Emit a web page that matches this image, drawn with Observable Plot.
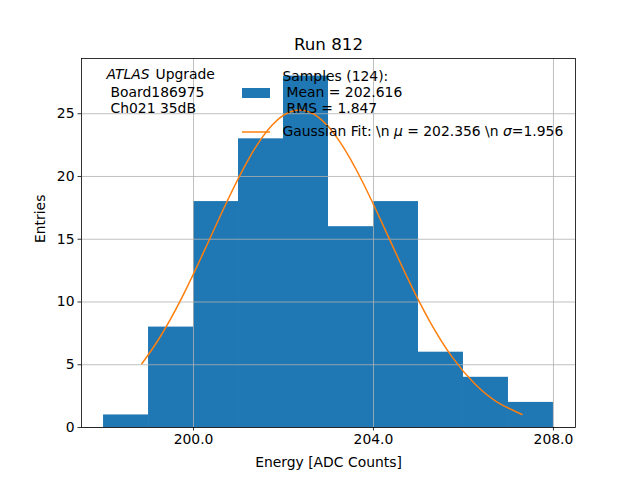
<!DOCTYPE html>
<html><head>
<meta charset="utf-8">
<script src="https://cdn.jsdelivr.net/npm/d3@7"></script>
<script src="https://cdn.jsdelivr.net/npm/@observablehq/plot@0.6"></script>
<style>
body{margin:0;background:#fff}
#c svg{font-family:"DejaVu Sans",sans-serif;background:#fff}
</style>
</head><body><div id="c"></div>
<script>
// Histogram bins (left edges, width 1) and counts
const binStart = [198, 199, 200, 201, 202, 203, 204, 205, 206, 207];
const counts   = [1, 8, 18, 23, 28, 16, 18, 6, 4, 2];
// Gaussian fit curve
const fitX = [198.85, 199.25, 199.75, 200.25, 200.75, 201.25, 201.75, 202.25, 202.75, 203.25, 203.75, 204.25, 204.75, 205.25, 205.75, 206.25, 206.75, 207.3];
const fitY = [5.08, 7.17, 10.41, 14.17, 18.05, 21.55, 24.10, 25.25, 24.78, 22.78, 19.62, 15.83, 11.96, 8.46, 5.61, 3.49, 2.03, 1.04];
const xTicks = [200, 204, 208];
const yTicks = [0, 5, 10, 15, 20, 25];
const title = "Run 812";
const xLabel = "Energy [ADC Counts]";
const yLabel = "Entries";
const infoLines = ["Board186975", "Ch021 35dB"];
const legendSamples = ["Samples (124):", "Mean = 202.616", "RMS = 1.847"];
const legendFit = "Gaussian Fit: \\n μ = 202.356 \\n σ=1.956";

const bins = binStart.map((b, i) => ({x1: b, x2: b + 1, y: counts[i]}));
const fit = fitX.map((x, i) => ({x, y: fitY[i]}));

const FS = 13.9;
const T = (txt, dx, dy, extra = {}) =>
  Plot.text([txt], {frameAnchor: "top-left", dx, dy, textAnchor: "start", lineAnchor: "middle", fontSize: FS, ...extra});

const plot = Plot.plot({
  width: 640, height: 480,
  marginLeft: 81, marginRight: 65, marginTop: 58, marginBottom: 53,
  x: {domain: [197.51, 208.49]},
  y: {domain: [0, 29.4]},
  style: {fontFamily: "DejaVu Sans", fontSize: FS + "px", color: "black"},
  marks: [
    Plot.rectY(bins, {x1: "x1", x2: "x2", y: "y", fill: "#1f77b4", inset: 0}),
    Plot.gridX(xTicks, {stroke: "#b0b0b0", strokeOpacity: 1, strokeWidth: 0.8}),
    Plot.gridY(yTicks, {stroke: "#b0b0b0", strokeOpacity: 1, strokeWidth: 0.8}),
    Plot.line(fit, {x: "x", y: "y", stroke: "#ff7f0e", strokeWidth: 1.5, curve: "natural"}),
    Plot.frame({stroke: "black", strokeWidth: 0.8}),
    Plot.axisX(xTicks, {tickFormat: d => d.toFixed(1), tickSize: 3.5, tickPadding: 3.5, strokeWidth: 0.8, fontSize: FS, label: null}),
    Plot.axisY(yTicks, {tickSize: 3.5, tickPadding: 3.5, strokeWidth: 0.8, fontSize: FS, label: null}),
    Plot.text([xLabel], {frameAnchor: "bottom", dy: 35, lineAnchor: "middle", fontSize: FS}),
    Plot.text([yLabel], {frameAnchor: "left", dx: -41, rotate: -90, lineAnchor: "middle", fontSize: FS}),
    Plot.text([title], {frameAnchor: "top", dy: -14, lineAnchor: "middle", fontSize: 16.7}),
    T("ATLAS", 25, 16, {fontStyle: "italic"}),
    T("Upgrade", 74, 16),
    T(infoLines[0], 29, 34),
    T(infoLines[1], 29, 50),
    T(legendSamples[0], 201, 18),
    T(legendSamples[1], 205, 34),
    T(legendSamples[2], 205, 50),
    T(legendFit, 201, 73)
  ]
});
document.getElementById("c").appendChild(plot);

// italic mu / sigma in fit legend
const svg = d3.select(plot);
svg.selectAll("text").each(function() {
  if (this.textContent === legendFit) {
    const parts = legendFit.split(/(μ|σ)/);
    const el = d3.select(this);
    el.text(null);
    parts.forEach(p => {
      const t = el.append("tspan").text(p);
      if (p === "μ" || p === "σ") t.attr("font-style", "italic");
    });
    el.style("white-space", "pre");
  }
});
// legend swatches (frame-relative)
const L = 81, TP = 58;
svg.append("rect").attr("x", L + 161).attr("y", TP + 30).attr("width", 28).attr("height", 10).attr("fill", "#1f77b4");
svg.append("line").attr("x1", L + 161).attr("x2", L + 189).attr("y1", TP + 74).attr("y2", TP + 74)
  .attr("stroke", "#ff7f0e").attr("stroke-width", 1.5);
</script>
</body></html>
